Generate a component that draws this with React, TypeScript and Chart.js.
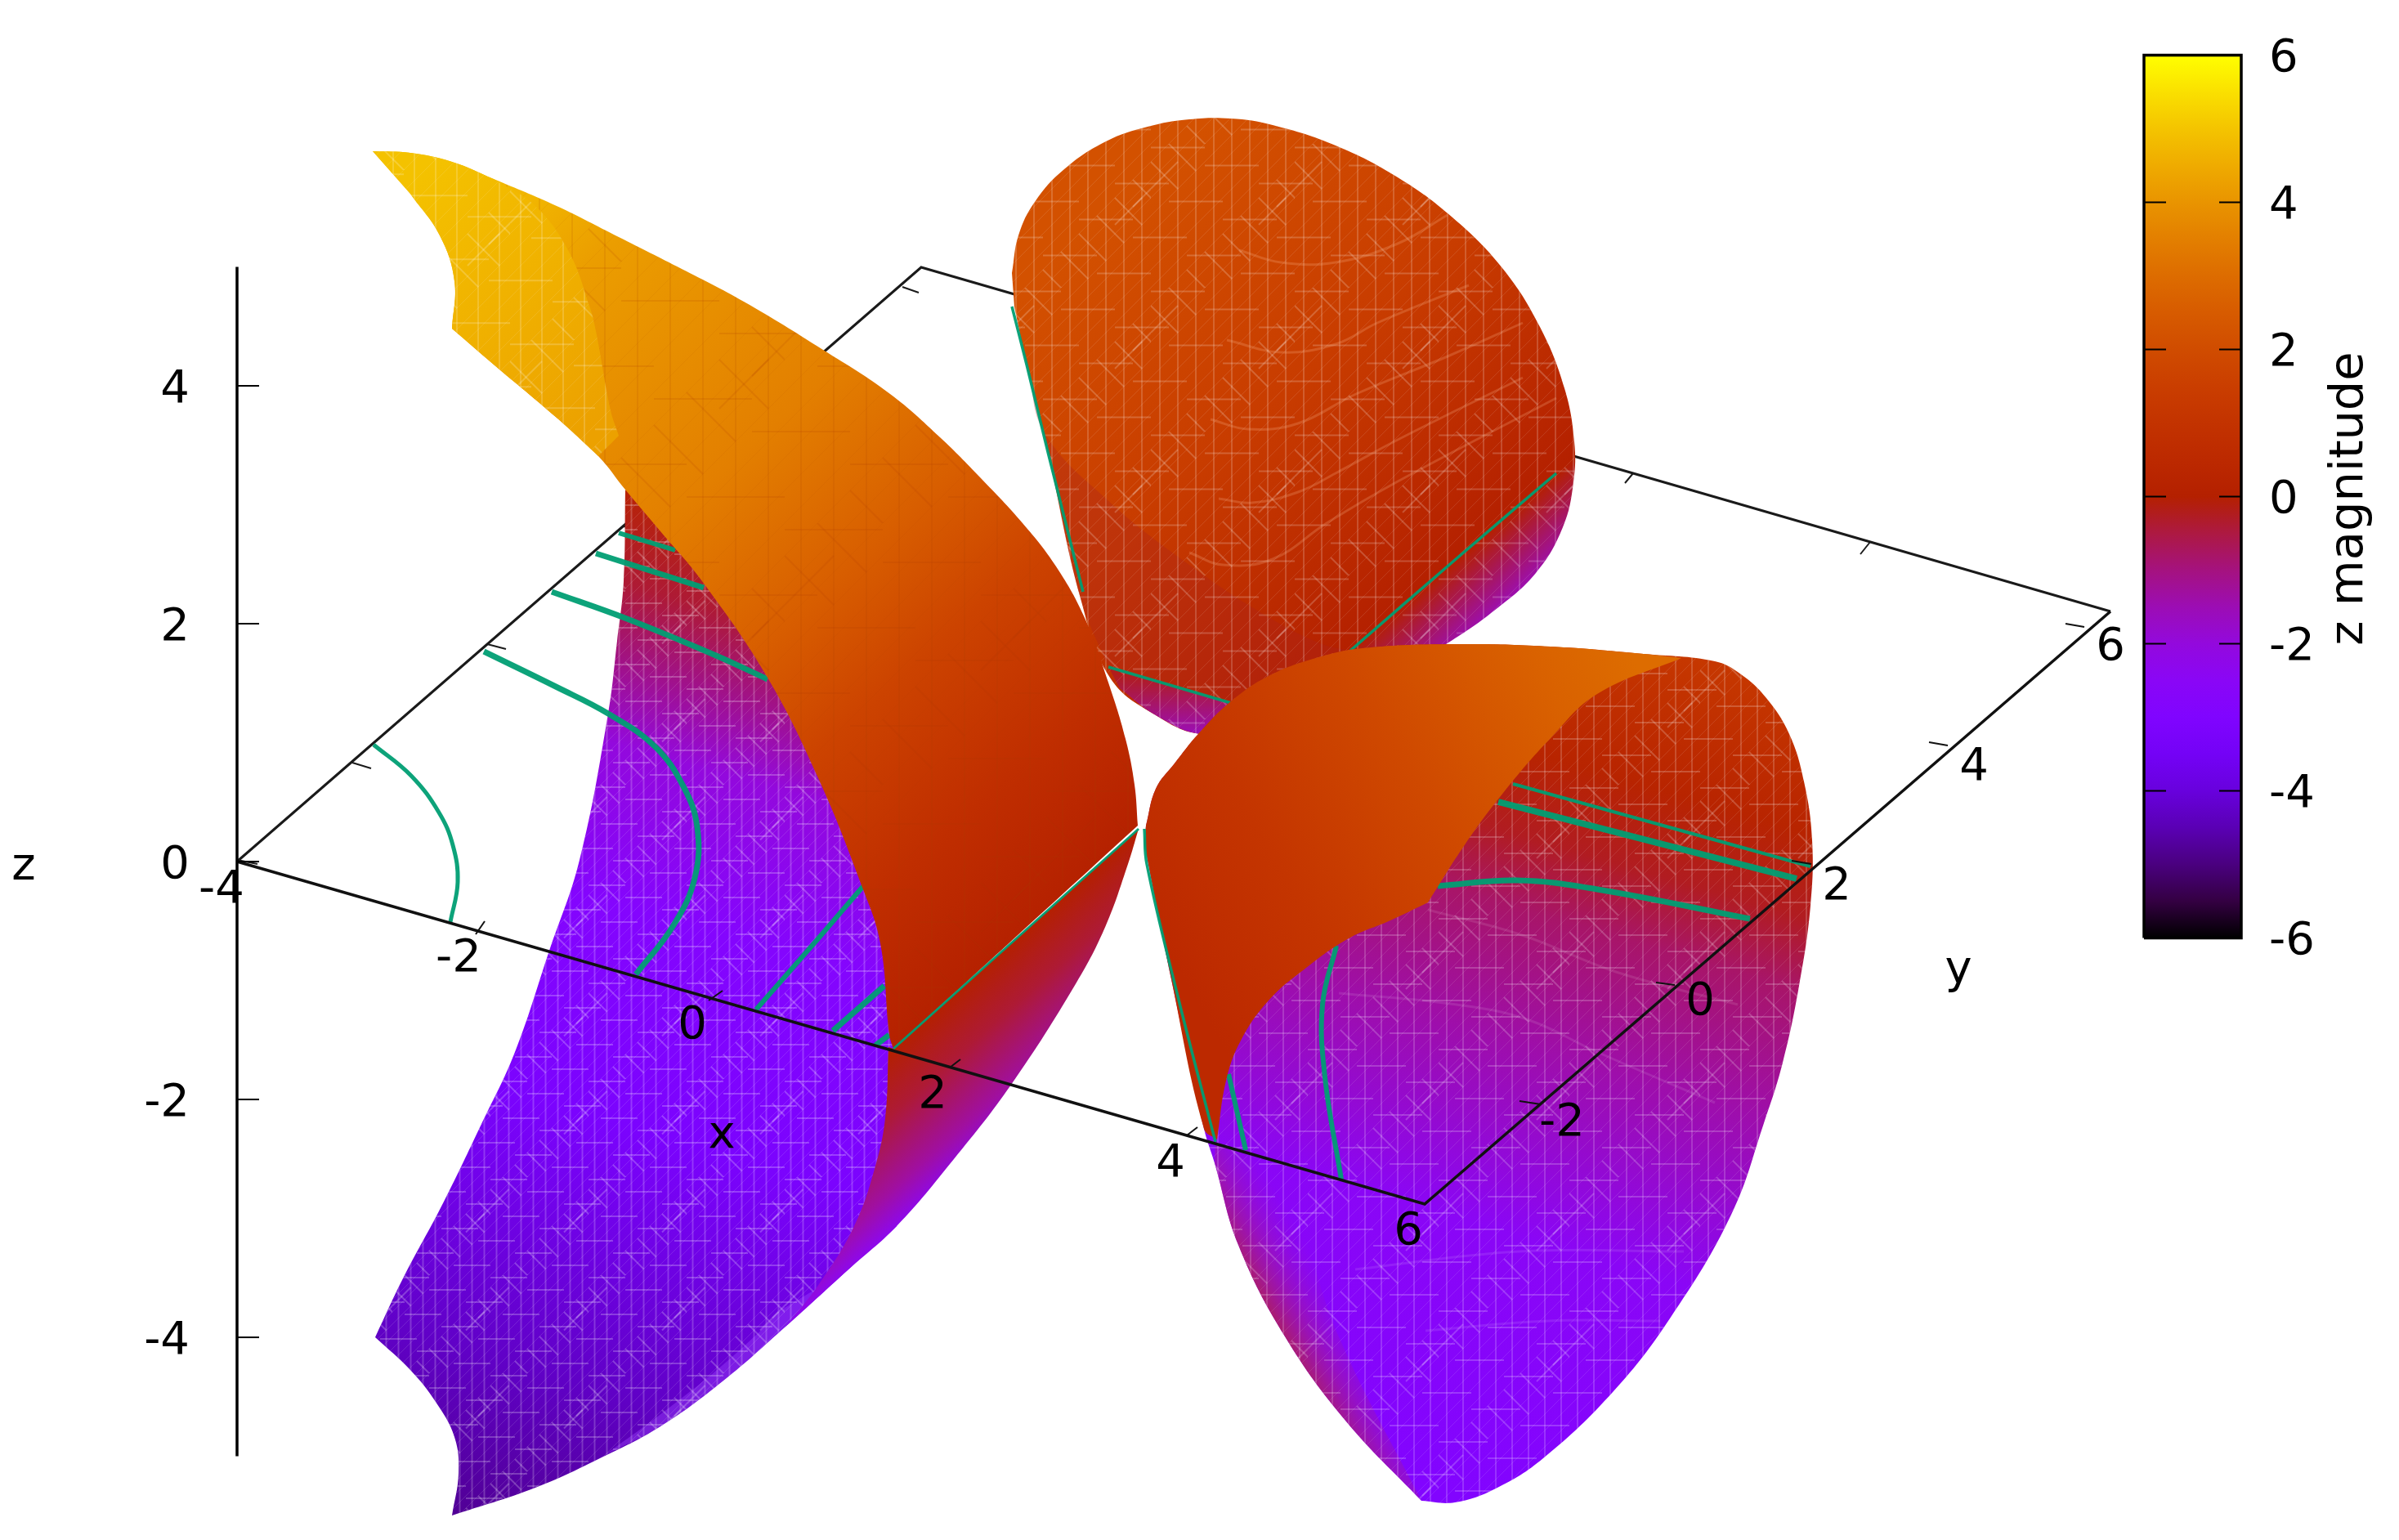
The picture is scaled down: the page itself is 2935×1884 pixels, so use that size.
import React, { useEffect, useRef } from "react";
import { Chart, registerables } from "chart.js";

Chart.register(...registerables);

type P = number[];

// ---------- frame of the z = 0 base plane ----------
const frameBack: P[] = [[290, 1054], [1127, 327], [2582, 748]];
const frameFront: P[] = [[290, 1054], [1743, 1473], [2582, 748]];
const frameBackTicks: P[][] = [
  [[431, 933], [454, 940]], [[596, 788], [619, 794]], [[762, 644], [788, 647]], [[1104, 351], [1124, 358]],
  [[1998, 579], [1988, 591]], [[2288, 663], [2276, 678]], [[290, 1052], [315, 1057]],
];
const frameFrontTicks: P[][] = [
  [[582, 1143], [593, 1127]], [[867, 1224], [884, 1212]], [[1162, 1306], [1175, 1296]], [[1452, 1389], [1465, 1379]],
  [[1885, 1351], [1859, 1347]], [[2049, 1205], [2026, 1202]], [[2216, 1057], [2192, 1053]], [[2383, 912], [2360, 908]], [[2550, 767], [2527, 763]],
];

// ---------- surface outlines (a repeated point is a sharp corner) ----------
const domeOutline: P[] = [
  [1238, 334], [1246, 288], [1266, 247], [1302, 207], [1353, 173], [1404, 155], [1455, 146], [1506, 145], [1557, 153],
  [1634, 178], [1710, 217], [1777, 266], [1838, 328], [1884, 400], [1914, 475], [1926, 540], [1925, 590], [1912, 645],
  [1879, 701], [1828, 747], [1777, 783], [1650, 860], [1560, 890], [1470, 898], [1414, 875], [1358, 829], [1322, 732],
  [1282, 553], [1256, 446], [1241, 375],
];
const domeShadow: P[] = [
  [1258, 450], [1258, 450], [1277, 528], [1353, 610], [1455, 691], [1557, 758], [1618, 788], [1652, 796], [1652, 796], [1506, 860], [1506, 860], [1356, 816], [1356, 816], [1322, 732], [1282, 553],
];
const domeRimLeft: P[] = [[1356, 816], [1356, 816], [1430, 838], [1506, 860], [1600, 880], [1600, 880], [1560, 890], [1470, 898], [1414, 875], [1370, 842]];
const domeWaves: P[][] = [
  [[1516, 306], [1567, 321], [1634, 321], [1710, 298], [1771, 263]],
  [[1501, 416], [1567, 431], [1634, 421], [1685, 395], [1797, 349]],
  [[1481, 513], [1527, 525], [1588, 518], [1659, 482], [1771, 436], [1863, 395]],
  [[1491, 610], [1532, 615], [1588, 602], [1634, 579], [1710, 538], [1863, 462]],
  [[1455, 676], [1496, 691], [1557, 684], [1623, 640], [1710, 589], [1904, 487]],
];

const leftPurple: P[] = [
  [765, 599], [765, 599], [763, 711], [755, 784], [744, 873], [709, 1052], [672, 1163], [630, 1287], [589, 1375], [543, 1470], [492, 1566],
  [459, 1636], [459, 1636], [502, 1676], [533, 1715], [556, 1758], [561, 1802], [553, 1854], [553, 1854], [655, 1820], [732, 1785], [808, 1745], [885, 1689],
  [961, 1623], [1038, 1553], [1097, 1500], [1097, 1500], [1120, 1300], [1120, 1300], [1090, 1150], [950, 800], [800, 620],
];
const leftStrip: P[] = [[1038, 1553], [1038, 1553], [961, 1623], [885, 1689], [808, 1745], [740, 1780], [740, 1780], [815, 1725], [890, 1665], [960, 1600]];
const leftBand: P[] = [
  [1393, 1014], [1393, 1014], [1380, 1057], [1353, 1132], [1317, 1202], [1237, 1327], [1167, 1418], [1097, 1500], [1038, 1553], [961, 1623], [961, 1623],
  [1002, 1571], [1045, 1500], [1070, 1430], [1083, 1368], [1087, 1281], [1087, 1281], [1093, 1283], [1093, 1283],
];
const leftSheet: P[] = [
  [456, 185], [456, 185], [502, 187], [553, 198], [604, 219], [681, 252], [757, 290], [834, 329], [910, 369], [1007, 428], [1089, 482], [1150, 535], [1200, 585],
  [1251, 640], [1292, 693], [1328, 758], [1356, 835], [1377, 904], [1388, 960], [1392, 1010], [1392, 1010], [1093, 1283], [1093, 1283], [1088, 1266], [1077, 1154], [1054, 1083],
  [1002, 954], [939, 829], [859, 711], [808, 650], [765, 599], [732, 558], [681, 511], [604, 446], [553, 402], [553, 402], [556, 344], [538, 288], [502, 237],
];
const leftYellow: P[] = [
  [456, 185], [456, 185], [502, 187], [553, 198], [604, 219], [604, 219], [655, 252], [696, 308], [721, 374], [729, 405], [747, 502], [757, 533], [757, 533], [732, 558], [732, 558],
  [681, 511], [604, 446], [553, 402], [553, 402], [556, 344], [538, 288], [502, 237],
];
const rightOutline: P[] = [
  [1402, 1010], [1402, 1010], [1414, 965], [1437, 934], [1466, 898], [1506, 858], [1552, 827], [1610, 805], [1667, 793], [1782, 788], [1897, 791],
  [2011, 800], [2098, 809], [2130, 825], [2161, 854], [2189, 898], [2207, 956], [2217, 1028], [2215, 1108], [2201, 1206], [2181, 1300],
  [2158, 1374], [2118, 1486], [2043, 1613], [1974, 1702], [1888, 1784], [1830, 1821], [1780, 1838], [1739, 1836], [1739, 1836], [1647, 1739],
  [1572, 1635], [1515, 1523], [1486, 1423], [1473, 1381], [1433, 1198], [1400, 1032],
];
const rightRim: P[] = [
  [1487, 1397], [1487, 1397], [1560, 1430], [1640, 1640], [1739, 1836], [1739, 1836], [1647, 1739], [1572, 1635], [1515, 1523], [1486, 1423],
];
const rightWaves: P[][] = [
  [[1638, 1215], [1782, 1229], [1868, 1247], [1954, 1287], [2098, 1349]],
  [[1747, 1113], [1862, 1144], [1977, 1189], [2126, 1229]],
  [[1658, 1553], [1859, 1531], [2060, 1531]],
  [[1744, 1628], [1894, 1616], [2031, 1616]],
];
const rightCap: P[] = [
  [1402, 1010], [1402, 1010], [1414, 965], [1437, 934], [1466, 898], [1506, 858], [1552, 827], [1610, 805], [1667, 793], [1782, 788], [1897, 791],
  [2011, 800], [2057, 805], [2057, 805], [1954, 849], [1897, 903], [1839, 970], [1793, 1032], [1747, 1104], [1747, 1104], [1701, 1126], [1650, 1148], [1598, 1184],
  [1552, 1224], [1518, 1273], [1500, 1322], [1489, 1394], [1489, 1394], [1473, 1381], [1433, 1198], [1400, 1032],
];

// ---------- z = 0 contour curves: [width, points] ----------
const contoursDome: [number, P[]][] = [
  [3.5, [[1238, 375], [1256, 446], [1282, 553], [1325, 724]]],
  [3.5, [[1356, 816], [1506, 860]]],
  [3.5, [[1652, 796], [1780, 685], [1904, 579]]],
];
const contoursLeft: [number, P[]][] = [
  [5, [[457, 911], [503, 949], [537, 994], [554, 1034], [560, 1079], [551, 1128]]],
  [7, [[592, 797], [680, 840], [744, 873], [801, 913], [836, 962], [853, 1012], [850, 1074], [824, 1132], [778, 1192]]],
  [7, [[675, 724], [767, 757], [876, 802], [939, 831]]],
  [7, [[729, 677], [861, 719]]],
  [6, [[757, 652], [826, 673]]],
  [6, [[1057, 1083], [996, 1154], [925, 1235]]],
  [7, [[1082, 1206], [1019, 1261]]],
  [7, [[1088, 1266], [1071, 1279]]],
];
const contourThinLeft: P[] = [[1393, 1014], [1093, 1283]];
const contoursRight: [number, P[]][] = [
  [6, [[1503, 1314], [1524, 1407]]],
  [6, [[1635, 1157], [1618, 1229], [1621, 1318], [1641, 1443]]],
  [7, [[1759, 1084], [1856, 1077], [1954, 1088], [2141, 1124]]],
  [8, [[1833, 981], [2198, 1075]]],
  [4, [[1851, 959], [2215, 1060]]],
];
const contourThinRight: P[] = [[1400, 1014], [1403, 1057], [1440, 1215], [1487, 1397]];

// ---------- axes, colorbar ----------
const zTicks = [-4, -2, 0, 2, 4];
const zAxisEnds = [-5, 5];
const barTicks = [-4, -2, 0, 2, 4];
const barStops = [-6, -5.5, -5, -4.5, -4, -3.5, -3, -2.5, -2, -1.5, -1, -0.5, 0, 0.5, 1, 1.5, 2, 2.5, 3, 3.5, 4, 4.5, 5, 5.5, 6];
const xTickLabels: [string, number, number][] = [["-4", 271, 1089], ["-2", 561, 1173], ["0", 847, 1255], ["2", 1141, 1340], ["4", 1432, 1424], ["6", 1723, 1507]];
const yTickLabels: [string, number, number][] = [["-2", 1911, 1374], ["0", 2080, 1226], ["2", 2247, 1085], ["4", 2415, 939], ["6", 2582, 792]];
const axisNames: [string, number, number][] = [["x", 883, 1389], ["y", 2396, 1187], ["z", 29, 1061]];
const barTitle = "z magnitude";

const FONT = "DejaVu Sans";
const FONT_SIZE = 56;

function palette(z: number): string {
  const t = Math.min(1, Math.max(0, (z + 6) / 12));
  const r = Math.sqrt(t), g = t * t * t, b = Math.max(0, Math.sin(2 * Math.PI * t));
  return `rgb(${Math.round(r * 255)},${Math.round(g * 255)},${Math.round(b * 255)})`;
}

function gradient(ctx: CanvasRenderingContext2D, a: P, b: P, stops: P[]) {
  const g = ctx.createLinearGradient(a[0], a[1], b[0], b[1]);
  stops.forEach(([t, z]) => g.addColorStop(t, palette(z)));
  return g;
}

// A repeating wire-frame texture: fine triangles plus broken, irregular coarse strokes.
function mesh(ctx: CanvasRenderingContext2D, cell: number, rgb: string, a: number) {
  const n = 8, s = cell * n;
  const c = document.createElement("canvas");
  c.width = s; c.height = s;
  const m = c.getContext("2d") as CanvasRenderingContext2D;
  const seg = (x0: number, y0: number, x1: number, y1: number, al: number, w: number) => {
    m.strokeStyle = `rgba(${rgb},${al})`;
    m.lineWidth = w;
    m.beginPath(); m.moveTo(x0, y0); m.lineTo(x1, y1); m.stroke();
  };
  for (let i = 0; i < n; i++) {
    const x = i * cell + cell / 2;
    seg(x, 0, x, s, a * 0.9, 2);
    for (let j = 0; j < n; j++) {
      seg(i * cell, (j + 1) * cell, (i + 1) * cell, j * cell, a * 0.55, 1);
    }
  }
  for (let r = 0; r < n; r++) {
    const sx = ((r * 3) % n) * cell;
    const y = r * cell + cell * 0.2;
    seg(sx, y, sx + cell * 3, y, a, 2);
    seg(sx - s, y, sx - s + cell * 3, y, a, 2);
    const dx = ((r * 5) % n) * cell;
    const dy = ((r * 3 + 1) % n) * cell;
    seg(dx, dy, dx + cell * 1.5, dy + cell * 1.5, a, 2);
    if (r % 3 === 0) seg(dx + cell * 1.5, dy, dx, dy + cell * 1.5, a, 2);
  }
  return ctx.createPattern(c, "repeat") as CanvasPattern;
}

const toXY = (pts: P[]) => pts.map(([x, y]) => ({ x, y }));

function shape(pts: P[], style: any, tension = 0.4) {
  return {
    data: toXY(pts), showLine: true, fill: "shape", backgroundColor: style, borderColor: "transparent",
    borderWidth: 0, pointRadius: 0, tension, clip: false, xAxisID: "x", yAxisID: "y",
  };
}
function stroke(pts: P[], color: string, width: number, tension = 0.4, yAxisID = "y") {
  return {
    data: toXY(pts), showLine: true, fill: false, borderColor: color, backgroundColor: "transparent",
    borderWidth: width, pointRadius: 0, tension, clip: false, xAxisID: "x", yAxisID, borderCapStyle: "butt",
  };
}

export default function App() {
  const ref = useRef<HTMLCanvasElement>(null);
  useEffect(() => {
    const canvas = ref.current as HTMLCanvasElement;
    const ctx = canvas.getContext("2d") as CanvasRenderingContext2D;
    const GREEN = "rgba(0,158,115,0.95)";
    const white = "255,255,255";

    const rimFade = ctx.createLinearGradient(1572, 1635, 1642, 1595);
    rimFade.addColorStop(0, "rgba(176,32,90,0.85)");
    rimFade.addColorStop(0.45, "rgba(165,26,150,0.5)");
    rimFade.addColorStop(1, "rgba(150,20,200,0)");

    const layers: any[] = [
      stroke(frameBack, "#1a1a1a", 3, 0),
      ...frameBackTicks.map((t) => stroke(t, "#1a1a1a", 2, 0)),

      // back dome
      shape(domeOutline, gradient(ctx, [1480, 150], [1930, 676], [[0, 2.2], [0.45, 1.4], [0.87, 0], [1, -1.7]])),
      shape(domeShadow, "rgba(172,34,30,0.32)"),
      shape(domeRimLeft, gradient(ctx, [0, 825], [0, 905], [[0, -0.2], [1, -1.7]])),
      shape(domeOutline, mesh(ctx, 22, white, 0.2)),
      ...domeWaves.map((p) => stroke(p, "rgba(255,190,150,0.22)", 3)),
      ...contoursDome.map(([w, p]) => stroke(p, GREEN, w)),

      // left object
      shape(leftPurple, gradient(ctx, [900, 620], [560, 1850], [[0, 0.3], [0.1, -0.4], [0.25, -2], [0.4, -2.8], [0.6, -3.2], [0.85, -4.3], [1, -4.8]])),
      shape(leftStrip, "rgba(160,70,255,0.4)"),
      shape(leftPurple, mesh(ctx, 15, white, 0.23)),
      shape(leftBand, gradient(ctx, [1243, 1148], [1356, 1275], [[0, 0], [0.35, -0.4], [0.76, -1.3], [1, -2.4]])),
      ...contoursLeft.map(([w, p]) => stroke(p, GREEN, w)),
      shape(leftSheet, gradient(ctx, [500, 220], [1292, 1104], [[0, 4.9], [0.1, 4.7], [0.19, 4.2], [0.44, 3.5], [0.6, 2.6], [0.72, 1.7], [0.87, 0.8], [1, 0.05]])),
      shape(leftSheet, mesh(ctx, 40, "170,60,0", 0.14)),
      shape(leftYellow, gradient(ctx, [500, 220], [750, 500], [[0, 4.95], [1, 4.3]])),
      shape(leftYellow, mesh(ctx, 26, white, 0.2)),
      stroke(contourThinLeft, GREEN, 3, 0),

      // right object
      shape(rightOutline, gradient(ctx, [2130, 810], [1830, 1840], [[0, 1.3], [0.165, 0.25], [0.26, -0.25], [0.34, -0.8], [0.49, -1.4], [0.7, -2.5], [1, -2.9]])),
      shape(rightRim, rimFade),
      shape(rightOutline, mesh(ctx, 20, white, 0.2)),
      ...rightWaves.map((p) => stroke(p, "rgba(255,255,255,0.1)", 3)),
      ...contoursRight.map(([w, p]) => stroke(p, GREEN, w)),
      shape(rightCap, gradient(ctx, [2000, 810], [1420, 1150], [[0, 3], [0.16, 2.7], [0.45, 1.9], [0.745, 1.1], [1, 0.5]])),
      stroke(contourThinRight, GREEN, 3.5),

      // front frame, on top of the surfaces
      stroke(frameFront, "#111111", 3.5, 0),
      ...frameFrontTicks.map((t) => stroke(t, "#111111", 2, 0)),

      // z axis
      stroke(zAxisEnds.map((v) => [290, v]), "#000000", 3.5, 0, "z"),
      ...zTicks.map((v) => stroke([[290, v], [317, v]], "#000000", 2, 0, "z")),

      // colorbar
      {
        ...shape([[2623, -6], [2742, -6], [2742, 6], [2623, 6], [2623, -6]], (() => {
          const g = ctx.createLinearGradient(0, 1147.5, 0, 67.5);
          barStops.forEach((z) => g.addColorStop((z + 6) / 12, palette(z)));
          return g;
        })(), 0),
        yAxisID: "cb", borderColor: "#000000", borderWidth: 3.5,
      },
      ...barTicks.flatMap((v) => [
        stroke([[2623, v], [2650, v]], "#000000", 2, 0, "cb"),
        stroke([[2715, v], [2742, v]], "#000000", 2, 0, "cb"),
      ]),
    ];
    layers.forEach((d, i) => { d.order = layers.length - i; });

    const textPlugin = {
      id: "planeText",
      afterDatasetsDraw(chart: any) {
        const c = chart.ctx, sx = chart.scales.x, sy = chart.scales.y;
        c.save();
        c.font = `${FONT_SIZE}px "${FONT}"`;
        c.fillStyle = "#000000";
        c.textAlign = "center";
        c.textBaseline = "middle";
        [...xTickLabels, ...yTickLabels, ...axisNames].forEach(([t, x, y]) => {
          c.fillText(t, sx.getPixelForValue(x), sy.getPixelForValue(y));
        });
        c.font = `${FONT_SIZE + 1.5}px "${FONT}"`;
        c.translate(sx.getPixelForValue(2875), sy.getPixelForValue(610));
        c.rotate(-Math.PI / 2);
        c.fillText(barTitle, 0, 0);
        c.restore();
      },
    };

    const font = { family: FONT, size: FONT_SIZE };
    const chart = new Chart(ctx, {
      type: "scatter",
      data: { datasets: layers },
      plugins: [textPlugin],
      options: {
        responsive: false,
        animation: false,
        events: [],
        devicePixelRatio: 1,
        layout: { padding: 0 },
        plugins: { legend: { display: false }, title: { display: false }, tooltip: { enabled: false } },
        scales: {
          x: { type: "linear", display: false, min: 290, max: 2742 },
          y: { type: "linear", display: false, min: 0, max: 1884, reverse: true },
          z: {
            type: "linear", position: "left", min: -5.704, max: 7.244,
            grid: { display: false, drawTicks: false }, border: { display: false },
            ticks: {
              stepSize: 2, includeBounds: false, autoSkip: false, maxRotation: 0, padding: 58, labelOffset: 5, color: "#000000", font,
              callback: (v: any) => (zTicks.includes(v) ? String(v) : ""),
            },
            afterFit: (s: any) => { s.width = 290; s.paddingTop = 0; s.paddingBottom = 0; },
          },
          cb: {
            type: "linear", position: "right", min: -14.183, max: 6.75,
            grid: { display: false, drawTicks: false }, border: { display: false },
            ticks: {
              stepSize: 2, includeBounds: false, autoSkip: false, maxRotation: 0, padding: 34, labelOffset: 5, color: "#000000", font,
              callback: (v: any) => (v >= -6 && v <= 6 ? String(v) : ""),
            },
            afterFit: (s: any) => { s.width = 193; s.paddingTop = 0; s.paddingBottom = 0; },
          },
        },
      } as any,
    } as any);
    return () => chart.destroy();
  }, []);
  return (
    <canvas
      ref={ref}
      width={2935}
      height={1884}
      style={{ position: "fixed", left: 0, top: 0, width: 2935, height: 1884, display: "block", background: "#ffffff" }}
    />
  );
}
